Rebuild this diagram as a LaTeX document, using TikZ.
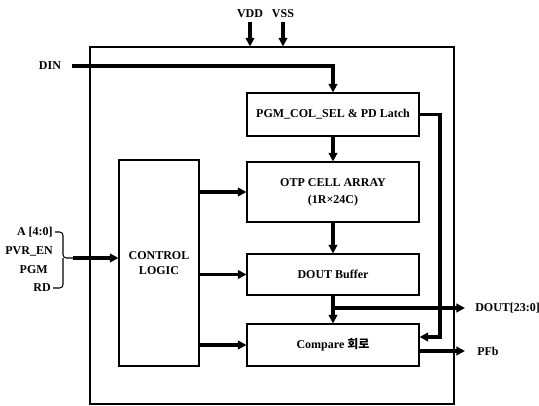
\documentclass[tikz,border=0pt]{standalone}
\usepackage{fontspec}
\setmainfont{Liberation Serif}
\newfontfamily\krfont{Noto Sans CJK KR}
\usetikzlibrary{arrows.meta}
\begin{document}
\begin{tikzpicture}[x=0.75pt,y=-0.75pt,
  font=\fontsize{9}{12}\selectfont\bfseries,
  blk/.style={draw, line width=0.8pt, minimum width=129pt, inner sep=0pt, align=center},
  thin/.style={line width=0.8pt},
  arr/.style={line width=2.6pt, -{Triangle[length=6.5pt,width=6.5pt]}},
  lbl/.style={inner sep=0pt}]
\useasboundingbox (0,0) rectangle (539,406);
% outer box
\node[draw, line width=0.8pt, minimum width=273pt, minimum height=267.75pt, inner sep=0pt] (outer) at (272,225.5) {};
% blocks
\node[blk, minimum height=32.25pt] (pgm) at (333,114.5) {PGM\_COL\_SEL \& PD Latch};
\node[blk, minimum height=45pt, font=\fontsize{9}{12.75}\selectfont\bfseries] (otp) at (333,192) {OTP CELL ARRAY\\(1R×24C)};
\node[blk, minimum height=30.75pt] (dout) at (333,274.5) {DOUT Buffer};
\node[blk, minimum height=31.5pt] (cmp) at (333,345) {Compare {\krfont 회로}};
\node[draw, line width=0.8pt, minimum width=60pt, minimum height=154.5pt, inner sep=0pt, align=center,
      font=\fontsize{9}{11.25}\selectfont\bfseries] (cl) at (159,263) {CONTROL\\LOGIC};
% power pins
\node[lbl, anchor=south] (vdd) at (250,18) {VDD};
\node[lbl, anchor=south] (vss) at (283,18) {VSS};
\draw[arr] (vdd.south) ++(0,4) -- (vdd.south |- outer.north);
\draw[arr] (vss.south) ++(0,4) -- (vss.south |- outer.north);
% DIN
\node[lbl] (din) at (50,66) {DIN};
\coordinate (dinst) at (72,66);
\draw[arr] (dinst) -| (pgm.north);
% internal vertical flow
\draw[arr] (pgm.south) -- (otp.north);
\draw[arr] (otp.south) -- (dout.north);
\draw[arr] (dout.south) -- (cmp.north);
% DOUT output
\coordinate (br) at (333,308);
\node[lbl, anchor=west] (douto) at (475,308) {DOUT[23:0]};
\draw[arr] (br) -- ([xshift=-7.5pt]douto.west);
% PFb output
\node[lbl, anchor=west] (pfb) at (477,351) {PFb};
\draw[arr] (cmp.east |- pfb.west) -- ([xshift=-9pt]pfb.west);
% latch to compare
\coordinate (rt) at (440,337);
\draw[arr] (pgm.east) -| (rt) -- (rt -| cmp.east);
% control logic outputs
\draw[arr] (cl.east |- otp.west) -- (otp.west);
\draw[arr] (cl.east |- dout.west) -- (dout.west);
\draw[arr] (cl.east |- cmp.west) -- (cmp.west);
% inputs
\node[lbl, anchor=east] (ia) at (53,232) {A [4:0]};
\node[lbl, anchor=east] (ipvr) at (53,251) {PVR\_EN};
\node[lbl, anchor=east] (ipgm) at (48,270) {PGM};
\node[lbl, anchor=east] (ird) at (51,288) {RD};
\coordinate (bm) at (63,258);
\coordinate (bst) at (73,258);
\draw[thin, rounded corners=2.5pt] ([xshift=1.5pt]ia.east) -| (bm) -- (bst);
\draw[thin, rounded corners=2.5pt] ([xshift=1.5pt]ird.east) -| (bm);
\draw[arr] (bst) -- (bst -| cl.west);
\end{tikzpicture}
\end{document}
